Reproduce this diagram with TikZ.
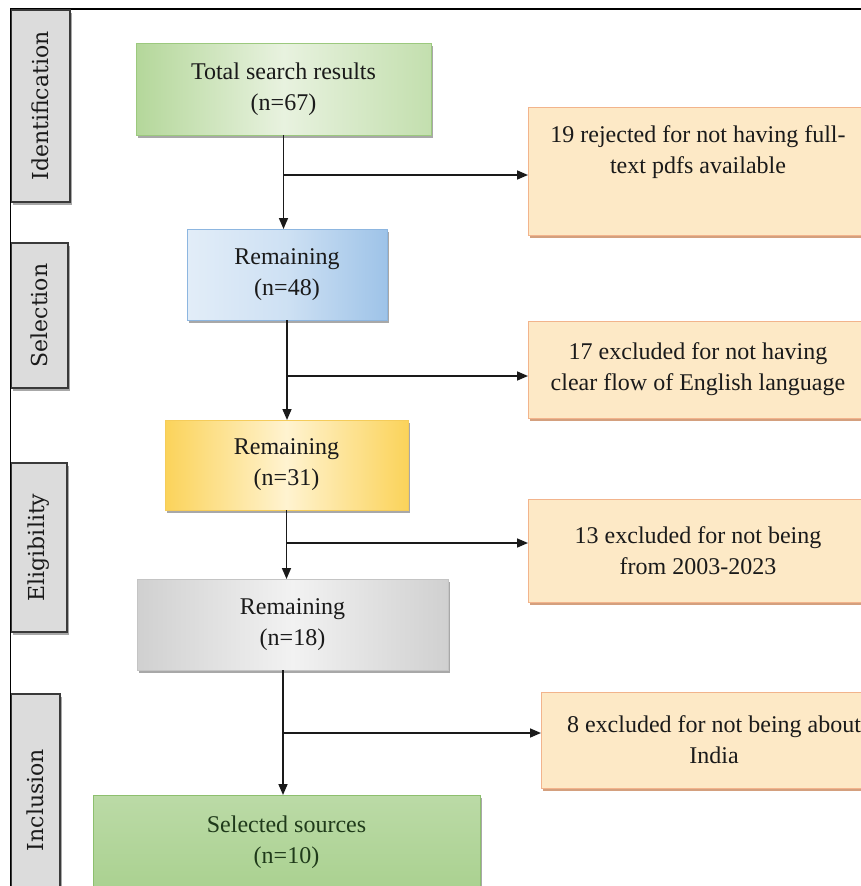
\documentclass[tikz,border=0pt]{standalone}
\usepackage{fontspec}
\setmainfont{Liberation Serif}
\newfontfamily\tabfont{DejaVu Serif}
\usetikzlibrary{arrows.meta}
\definecolor{txt}{HTML}{1A1A1A}
\definecolor{gA}{HTML}{B4D79A}
\definecolor{gB}{HTML}{E8F2DF}
\definecolor{gD}{HTML}{9CC97E}
\definecolor{bA}{HTML}{E2EDF8}
\definecolor{bB}{HTML}{9EC3E8}
\definecolor{bD}{HTML}{8DB6E0}
\definecolor{yA}{HTML}{FBD35A}
\definecolor{yB}{HTML}{FFF3D0}
\definecolor{yD}{HTML}{F5CC5A}
\definecolor{kA}{HTML}{D0D0D0}
\definecolor{kB}{HTML}{F2F2F2}
\definecolor{kD}{HTML}{C4C4C4}
\definecolor{peach}{HTML}{FDE9C6}
\definecolor{peachB}{HTML}{F2B48C}
\definecolor{peachS}{HTML}{D4A07E}
\definecolor{selG}{HTML}{AAD190}
\definecolor{selB}{HTML}{8DBF6E}
\definecolor{selT}{HTML}{1F3A1A}
\definecolor{tabF}{HTML}{DCDCDC}
\definecolor{tabB}{HTML}{3A3A3A}
\definecolor{lineC}{HTML}{1A1A1A}
\definecolor{shadC}{HTML}{A8A8A8}
\begin{document}
\begin{tikzpicture}[x=1pt,y=-1pt,
  shad/.style={preaction={fill=#1, draw=none, transform canvas={shift={(1.5pt,-3pt)}}}},
  box/.style={rectangle, inner sep=0pt, outer sep=0pt, align=center,
    font=\fontsize{24}{31}\selectfont, text=txt, line width=0.6pt},
  flowbox/.style={box, shad=shadC},
  sidebox/.style={box, draw=peachB, fill=peach, shad=peachS},
  tabbox/.style={rectangle, inner sep=0pt, outer sep=0pt, draw=tabB, fill=tabF,
    line width=1.3pt, shad=shadC},
  tablabel/.style={rotate=90, font=\tabfont\fontsize{22}{26}\selectfont, text=txt, inner sep=0pt},
  link/.style={draw=lineC, line width=1.6pt},
  arr/.style={link, -{Triangle[length=11pt,width=9pt]}}
]
\useasboundingbox (0,0) rectangle (861,886);
\fill[white] (0,0) rectangle (861,886);
\clip (0,0) rectangle (861,886);

% frame
\draw[draw=black, line width=1.4pt] (10.5,886) -- (10.5,9) -- (861,9);

% stage tabs
\node[tabbox, minimum width=59pt, minimum height=192pt] (t1) at (40.5,106) {};
\node[tablabel] (t1l) at (t1.center) {Identification};
\node[tabbox, minimum width=57pt, minimum height=145pt] (t2) at (39.5,315.5) {};
\node[tablabel] (t2l) at (t2.center) {Selection};
\node[tabbox, minimum width=56pt, minimum height=169pt] (t3) at (39,547.5) {};
\node[tablabel] (t3l) at (t3.center) {Eligibility};
\node[tabbox, minimum width=49pt, minimum height=212pt] (t4) at (35.5,800) {};
\node[tablabel] (t4l) at (t4.center) {Inclusion};
\draw[draw=black, line width=1.4pt] (10.5,886) -- (10.5,9);

% main flow boxes
\node[flowbox, draw=gD, left color=gA, right color=gA!80, middle color=gB,
      minimum width=295pt, minimum height=92pt] (tsr) at (283.5,89)
      {Total search results\\(n=67)};
\node[flowbox, draw=bD, left color=bA, right color=bB, middle color=bA!70!bB,
      minimum width=200pt, minimum height=91pt] (rem48) at (287,274.5)
      {Remaining\\(n=48)};
\node[flowbox, draw=yD, left color=yA, right color=yA, middle color=yB,
      minimum width=243pt, minimum height=90pt] (rem31) at (286.5,465)
      {Remaining\\(n=31)};
\node[flowbox, draw=kD, left color=kA, right color=kA, middle color=kB,
      minimum width=311pt, minimum height=91pt] (rem18) at (292.5,624.5)
      {Remaining\\(n=18)};
\node[flowbox, draw=selB, top color=selG!80!white, bottom color=selG,
      text=selT, minimum width=387pt, minimum height=95pt] (sel) at (286.5,842.5)
      {Selected sources\\(n=10)};

% exclusion boxes
\node[sidebox, minimum width=340pt, minimum height=128pt] (r1) at (698,171) {};
\node[box] (r1t) at (698,152) {19 rejected for not having full-\\text pdfs available};
\node[sidebox, minimum width=340pt, minimum height=97pt] (r2) at (698,369.5)
      {17 excluded for not having\\clear flow of English language};
\node[sidebox, minimum width=340pt, minimum height=103pt] (r3) at (698,550.5)
      {13 excluded for not being\\from 2003-2023};
\node[sidebox, minimum width=346pt, minimum height=96pt] (r4) at (714,740)
      {8 excluded for not being about\\India};

% junctions
\coordinate (j1) at (283.5,175);
\coordinate (j2) at (287,376);
\coordinate (j3) at (286.5,543);
\coordinate (j4) at (283,733);
\coordinate (s4) at (283,670);

% connectors
\draw[arr] (tsr.south) -- (tsr.south |- rem48.north);
\draw[arr] (rem48.south) -- (rem48.south |- rem31.north);
\draw[arr] (rem31.south) -- (rem31.south |- rem18.north);
\draw[arr] (s4) -- (s4 |- sel.north);
\draw[arr] (j1) -- (j1 -| r1.west);
\draw[arr] (j2) -- (j2 -| r2.west);
\draw[arr] (j3) -- (j3 -| r3.west);
\draw[arr] (j4) -- (j4 -| r4.west);
\end{tikzpicture}
\end{document}
